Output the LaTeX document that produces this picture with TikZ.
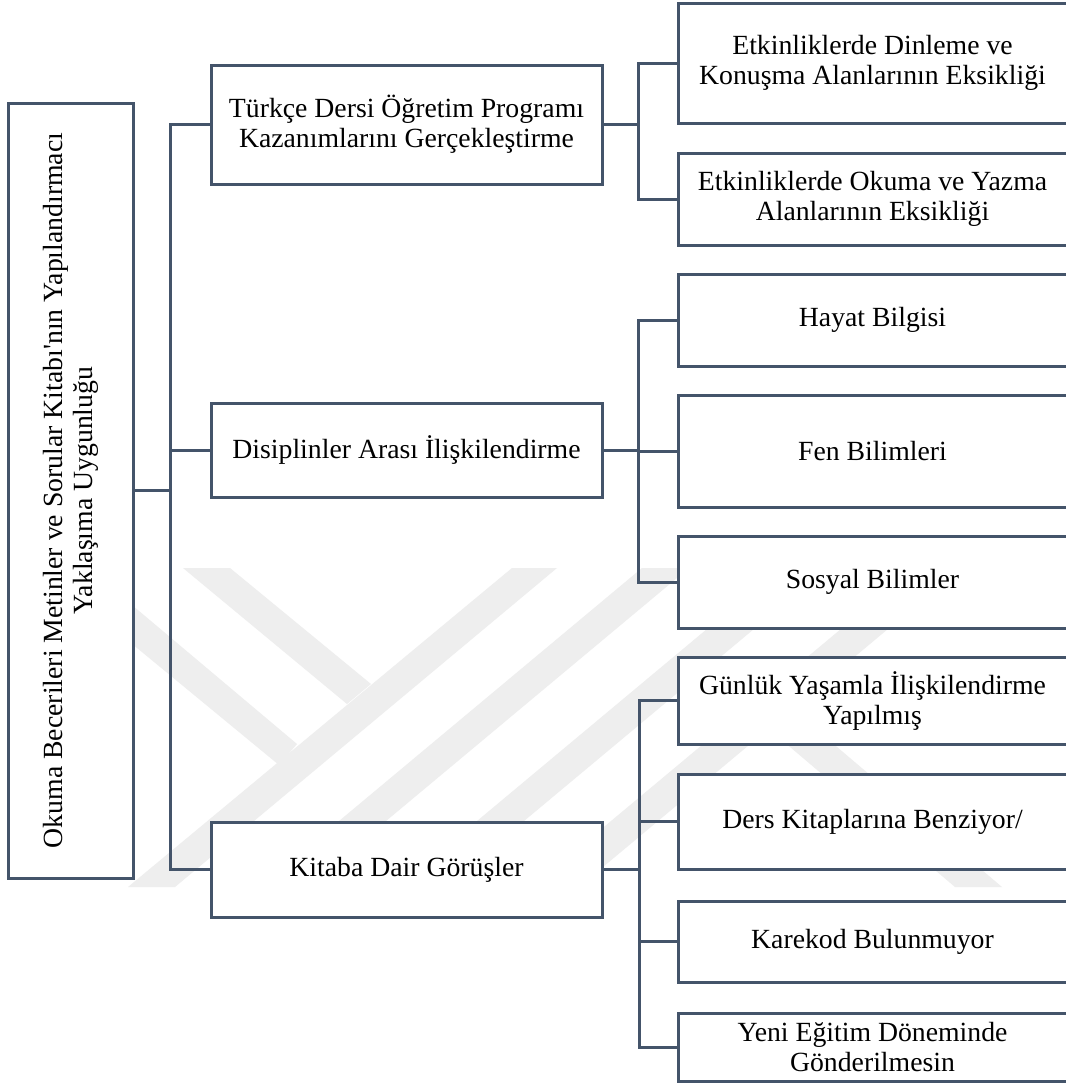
\documentclass[tikz,border=0pt]{standalone}
\usepackage{fontspec}
\setmainfont{Liberation Serif}
\usetikzlibrary{calc}
\definecolor{linec}{HTML}{44546A}
\definecolor{wm}{HTML}{EEEEEE}
\begin{document}
\begin{tikzpicture}[x=0.75pt,y=-0.75pt,
  txt/.style={font=\fontsize{20.8}{22.5}\selectfont, align=center, text=black},
  box/.style={txt, draw=linec, line width=2.25pt, fill=white, inner sep=0pt},
  lvtwo/.style={box, minimum width=293.25pt},
  lvthree/.style={box, minimum width=291.75pt},
  conn/.style={draw=linec, line width=2.25pt}]
\useasboundingbox (0,0) rectangle (1066,1083);
\fill[white] (0,0) rectangle (1066,1083);
% faint watermark
\fill[wm] (183,568) -- (230,568) -- (371,684) -- (347,704) -- cycle;
\fill[wm] (512,568) -- (557,568) -- (175,887) -- (128,887) -- cycle;
\fill[wm] (40,568) -- (88,568) -- (297,744) -- (279,765) -- cycle;
\fill[wm] (642,568) -- (689,568) -- (307,887) -- (260,887) -- cycle;
\fill[wm] (780,568) -- (827,568) -- (445,887) -- (398,887) -- cycle;
\fill[wm] (914,568) -- (961,568) -- (579,887) -- (532,887) -- cycle;
\fill[wm] (750,713) -- (797,713) -- (1002,887) -- (955,887) -- cycle;
% root
\node[box, minimum width=93.75pt, minimum height=581.25pt] (root) at (70.5,490.5) {};
\node[txt, rotate=90] (roottxt) at (root.center) {Okuma Becerileri Metinler ve Sorular Kitabı{\addfontfeatures{Ligatures=TeXOff}'}nın Yapılandırmacı\\Yaklaşıma Uygunluğu};
% level two
\node[lvtwo, minimum height=89.25pt] (T) at (406.5,124.5) {Türkçe Dersi Öğretim Programı\\Kazanımlarını Gerçekleştirme};
\node[lvtwo, minimum height=70.5pt] (D) at (406.5,450) {Disiplinler Arası İlişkilendirme};
\node[lvtwo, minimum height=71.25pt] (K) at (406.5,869.5) {Kitaba Dair Görüşler};
% level three
\node[lvthree, minimum height=90pt] (E1) at (872.5,63) {Etkinliklerde Dinleme ve\\Konuşma Alanlarının Eksikliği};
\node[lvthree, minimum height=69pt] (E2) at (872.5,199) {Etkinliklerde Okuma ve Yazma\\Alanlarının Eksikliği};
\node[lvthree, minimum height=69pt] (H) at (872.5,320) {Hayat Bilgisi};
\node[lvthree, minimum height=84pt] (F) at (872.5,451) {Fen Bilimleri};
\node[lvthree, minimum height=69pt] (S) at (872.5,582) {Sosyal Bilimler};
\node[lvthree, minimum height=65.25pt] (G) at (872.5,700.5) {Günlük Yaşamla İlişkilendirme\\Yapılmış};
\node[lvthree, minimum height=71.25pt] (Dr) at (872.5,821.5) {Ders Kitaplarına Benziyor/};
\node[lvthree, minimum height=60.75pt] (Kr) at (872.5,941.5) {Karekod Bulunmuyor};
\node[lvthree, minimum height=51pt] (Y) at (872.5,1047) {Yeni Eğitim Döneminde\\Gönderilmesin};
% connectors
\draw[conn] (T.west) -- ++(-39,0) coordinate (tr) |- (K.west);
\draw[conn] (D.west) -- (D.west -| tr);
\draw[conn] (root.east) -- (root.east -| tr);
\draw[conn] (E1.west) -- ++(-38,0) coordinate (ga) |- (E2.west);
\draw[conn] (T.east) -- (T.east -| ga);
\draw[conn] (H.west) -- ++(-38,0) coordinate (gb) |- (S.west);
\draw[conn] (F.west) -- (F.west -| gb);
\draw[conn] (D.east) -- (D.east -| gb);
\draw[conn] (G.west) -- ++(-37,0) coordinate (gc) |- (Y.west);
\draw[conn] (Dr.west) -- (Dr.west -| gc);
\draw[conn] (Kr.west) -- (Kr.west -| gc);
\draw[conn] (K.east) -- (K.east -| gc);
\end{tikzpicture}
\end{document}
